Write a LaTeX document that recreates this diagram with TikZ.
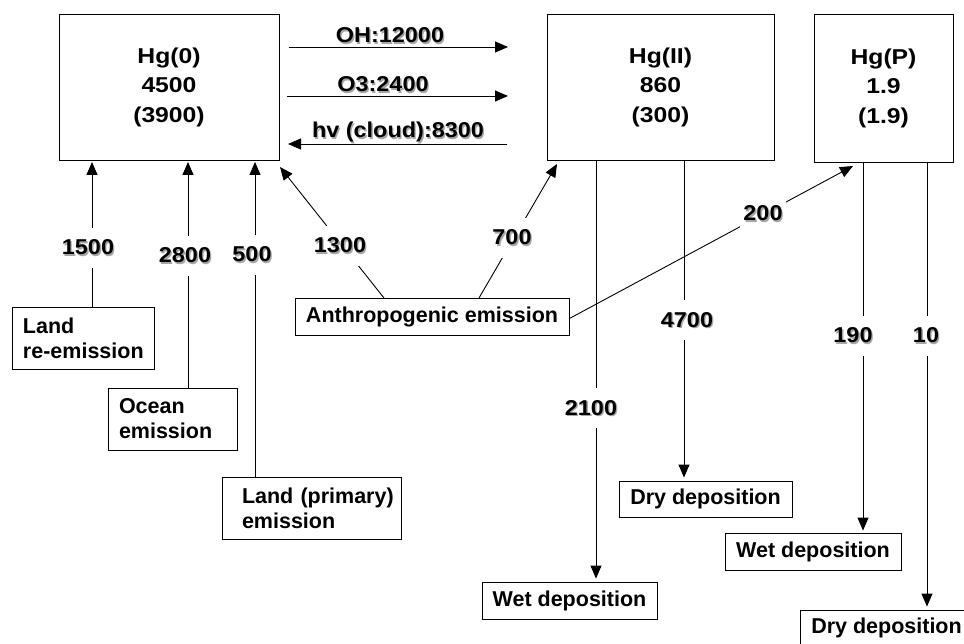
\documentclass[tikz,border=0pt]{standalone}
\usepackage{graphicx}
\usepackage{fontspec}
\setmainfont{Liberation Sans}
\usetikzlibrary{arrows.meta}
\newcommand\shad[1]{\makebox[0pt][l]{\kern1.2pt\raisebox{-1.2pt}{\textcolor{black!35}{#1}}}#1}
\newcommand\lbl[1]{\scalebox{1.09}[1]{\shad{#1}}}
\newcommand\hgt[1]{\scalebox{1.15}[1]{#1}}
\tikzset{
  hgbox/.style={draw, line width=0.9pt, align=center, inner sep=0pt,
    font=\fontsize{21.5}{29.5}\selectfont\bfseries},
  sbox/.style={draw, line width=0.9pt, align=left, inner ysep=0pt, minimum height=62pt,
    font=\fontsize{21.5}{25}\selectfont\bfseries},
  dbox/.style={draw, line width=0.9pt, align=center, inner sep=0pt, minimum height=37pt,
    font=\fontsize{21.5}{25}\selectfont\bfseries},
  num/.style={fill=white, inner xsep=3pt, inner ysep=12pt, anchor=base,
    font=\fontsize{21.5}{25}\selectfont\bfseries},
  flow/.style={line width=0.9pt, -{Triangle[width=11pt,length=13pt]}},
  plain/.style={line width=0.9pt}
}
\begin{document}
\begin{tikzpicture}[x=1pt, y=-1pt]
\clip (0,0) rectangle (964,644);
\fill[white] (0,0) rectangle (964,644);

% main boxes
\node[hgbox, minimum width=220pt, minimum height=146pt] (hg0) at (169,87)
  {\hgt{Hg(0)}\\\hgt{4500}\\\hgt{(3900)}};
\node[hgbox, minimum width=227pt, minimum height=146pt] (hg2) at (660.5,87)
  {\hgt{Hg(II)}\\\hgt{860}\\\hgt{(300)}};
\node[hgbox, minimum width=139pt, minimum height=148pt] (hgp) at (883.5,88)
  {\hgt{Hg(P)}\\\hgt{1.9}\\\hgt{(1.9)}};

% source boxes
\node[sbox, inner xsep=11pt, text width=120pt] (landre) at (83,338)
  {\mbox{Land}\\\mbox{re-emission}};
\node[sbox, inner xsep=11pt, text width=107pt] (ocean) at (172.5,419)
  {\mbox{Ocean}\\\mbox{emission}};
\node[sbox, inner xsep=20pt, text width=139pt] (landpri) at (311.5,508)
  {\mbox{Land (primary)}\\\mbox{emission}};
\node[dbox, minimum width=274pt] (anthro) at (432,316.5) {Anthropogenic emission};

% sink boxes
\node[dbox, minimum width=175pt] (wet1) at (569.5,600.5) {Wet deposition};
\node[dbox, minimum width=173pt, minimum height=36pt] (dry1) at (705.5,499) {Dry deposition};
\node[dbox, minimum width=176pt] (wet2) at (813,551.5) {Wet deposition};
\node[dbox, minimum width=173pt, minimum height=36pt] (dry2) at (886.5,628) {Dry deposition};

% coordinates for free ends
\coordinate (ohA) at (289,47);   \coordinate (ohB) at (508,47);
\coordinate (oA) at (287,96);    \coordinate (oB) at (508,96);
\coordinate (hvA) at (507,144);  \coordinate (hvB) at (288,144);
\coordinate (t1) at (92,162);
\coordinate (t2) at (188,162);
\coordinate (t3) at (255,162);
\coordinate (t4) at (280,167);
\coordinate (s4) at (384,298);
\coordinate (t5) at (557,164);
\coordinate (s5) at (479,298);
\coordinate (t6) at (853,166);
\coordinate (d1) at (596,160);
\coordinate (d2) at (684,160);
\coordinate (d3) at (863,162);
\coordinate (d4) at (927,162);

% reactions
\draw[flow] (ohA) -- (ohB);
\draw[flow] (oA) -- (oB);
\draw[flow] (hvA) -- (hvB);

% emissions
\draw[flow] (landre.north -| t1) -- (t1);
\draw[flow] (ocean.north -| t2) -- (t2);
\draw[flow] (landpri.north -| t3) -- (t3);
\draw[flow] (s4) -- (t4);
\draw[flow] (s5) -- (t5);
\draw[flow] ([yshift=-2pt]anthro.east) -- (t6);

% depositions
\draw[flow, shorten >=3pt] (d1) -- (wet1.north -| d1);
\draw[flow, shorten >=3pt] (d2) -- (dry1.north -| d2);
\draw[flow, shorten >=2pt] (d3) -- (wet2.north -| d3);
\draw[flow, shorten >=3pt] (d4) -- (dry2.north -| d4);

% reaction labels
\node[num, fill=none, inner ysep=0pt] (lOH) at (390,43) {\lbl{OH:12000}};
\node[num, fill=none, inner ysep=0pt] (lO3) at (383,92) {\lbl{O3:2400}};
\node[num, fill=none, inner ysep=0pt] (lhv) at (398,138) {\lbl{hv (cloud):8300}};

% flow labels
\node[num] (n1500) at (88,255) {\lbl{1500}};
\node[num] (n2800) at (185,263) {\lbl{2800}};
\node[num] (n500) at (252,262) {\lbl{500}};
\node[num] (n1300) at (340,253) {\lbl{1300}};
\node[num] (n700) at (512,245) {\lbl{700}};
\node[num] (n200) at (763,221) {\lbl{200}};
\node[num] (n4700) at (687,327) {\lbl{4700}};
\node[num] (n2100) at (591,415) {\lbl{2100}};
\node[num] (n190) at (853,343) {\lbl{190}};
\node[num] (n10) at (926,343) {\lbl{10}};
\end{tikzpicture}
\end{document}
